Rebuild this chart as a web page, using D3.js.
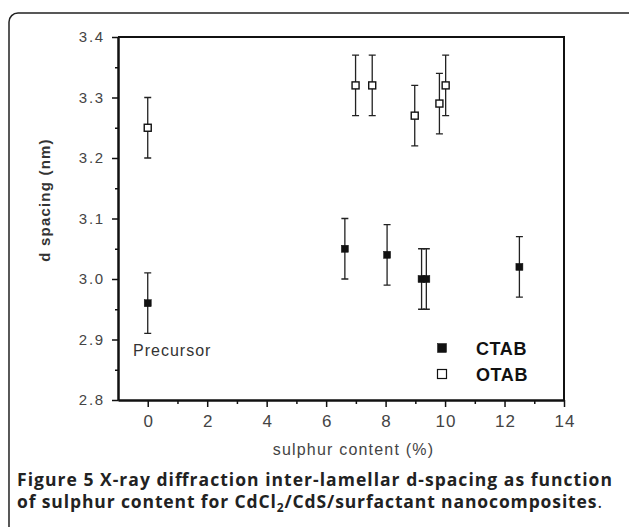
<!DOCTYPE html>
<html>
<head>
<meta charset="utf-8">
<script src="https://cdn.jsdelivr.net/npm/d3@7"></script>
<style>
  body { margin: 0; background: #fff; }
  svg { display: block; }
</style>
</head>
<body>
<div id="drawing_region"></div>
<script>
// values
const ctabX = [0, 6.63, 8.05, 9.21, 9.37, 12.5];
const ctabY = [2.96, 3.05, 3.04, 3.00, 3.00, 3.02];
const ctabErr = [0.05, 0.05, 0.05, 0.05, 0.05, 0.05];

const otabX = [0, 6.99, 7.55, 8.98, 9.81, 10.02];
const otabY = [3.25, 3.32, 3.32, 3.27, 3.29, 3.32];
const otabErr = [0.05, 0.05, 0.05, 0.05, 0.05, 0.05];

const xTicks = [0, 2, 4, 6, 8, 10, 12, 14];
const xMinor = [1, 3, 5, 7, 9, 11, 13];
const yTicks = [2.8, 2.9, 3.0, 3.1, 3.2, 3.3, 3.4];
const yMinor = [2.85, 2.95, 3.05, 3.15, 3.25, 3.35];

const legendNames = ["CTAB", "OTAB"];

const width = 629, height = 527;
const margin = { top: 37, right: 65, bottom: 127, left: 118 };
const innerW = width - margin.left - margin.right;
const innerH = height - margin.top - margin.bottom;

const svg = d3.select("#drawing_region").append("svg")
    .attr("width", width)
    .attr("height", height);

// rounded outer panel
svg.append("rect")
    .attr("x", 9).attr("y", 13)
    .attr("width", 640).attr("height", 540)
    .attr("rx", 9)
    .attr("fill", "none")
    .attr("stroke", "#222")
    .attr("stroke-width", 1.5);

const chart = svg.append("g")
    .attr("transform", `translate(${margin.left}, ${margin.top})`);

const x = d3.scaleLinear().domain([-1, 14]).range([0, innerW]);
const y = d3.scaleLinear().domain([2.8, 3.4]).range([innerH, 0]);

const axisFont = "'Liberation Sans', Arial, sans-serif";

// x axis
const xAxis = chart.append("g")
    .attr("class", "x-axis")
    .attr("transform", `translate(0, ${innerH})`)
    .call(d3.axisBottom(x).tickValues(xTicks).tickSize(7).tickPadding(8).tickSizeOuter(0));
chart.append("g")
    .attr("transform", `translate(0, ${innerH})`)
    .call(d3.axisBottom(x).tickValues(xMinor).tickSize(4).tickFormat("").tickSizeOuter(0));

// y axis
const yAxis = chart.append("g")
    .attr("class", "y-axis")
    .call(d3.axisLeft(y).tickValues(yTicks).tickSize(6).tickPadding(7)
        .tickFormat(d3.format(".1f")).tickSizeOuter(0));
chart.append("g")
    .call(d3.axisLeft(y).tickValues(yMinor).tickSize(3).tickFormat("").tickSizeOuter(0));

chart.selectAll(".domain").attr("stroke", "#111").attr("stroke-width", 2);
chart.selectAll(".tick line").attr("stroke", "#111").attr("stroke-width", 1.5);
xAxis.selectAll(".tick text")
    .attr("font-family", axisFont)
    .attr("font-size", 17)
    .attr("letter-spacing", 1)
    .attr("dx", 0.5)
    .attr("fill", "#444");
yAxis.selectAll(".tick text")
    .attr("font-family", axisFont)
    .attr("font-size", 15)
    .attr("letter-spacing", 1.8)
    .attr("fill", "#444");

// top and right frame
chart.append("path")
    .attr("d", `M0,0H${innerW}V${innerH}`)
    .attr("fill", "none")
    .attr("stroke", "#111")
    .attr("stroke-width", 2);

// axis titles
chart.append("text")
    .attr("x", x(6.92))
    .attr("y", innerH + 55)
    .attr("text-anchor", "middle")
    .attr("font-family", axisFont)
    .attr("font-size", 16)
    .attr("letter-spacing", 1.2)
    .attr("fill", "#444")
    .text("sulphur content (%)");

chart.append("text")
    .attr("transform", `translate(${-68}, ${200 - margin.top}) rotate(-90)`)
    .attr("text-anchor", "middle")
    .attr("font-family", axisFont)
    .attr("font-size", 15)
    .attr("font-weight", "bold")
    .attr("letter-spacing", 1.2)
    .attr("fill", "#333")
    .text("d spacing (nm)");

// error bars + markers
function drawSeries(xs, ys, errs, filled) {
    const data = xs.map((d, i) => ({ x: d, y: ys[i], e: errs[i] }));
    const g = chart.append("g");
    const cap = 3.5;
    data.forEach(d => {
        const px = x(d.x);
        const y1 = y(d.y + d.e), y2 = y(d.y - d.e);
        g.append("path")
            .attr("d", `M${px},${y1}V${y2}M${px - cap},${y1}H${px + cap}M${px - cap},${y2}H${px + cap}`)
            .attr("fill", "none")
            .attr("stroke", "#222")
            .attr("stroke-width", 1.3);
    });
    const s = 7;
    g.selectAll("rect").data(data).enter().append("rect")
        .attr("x", d => x(d.x) - s / 2)
        .attr("y", d => y(d.y) - s / 2)
        .attr("width", s)
        .attr("height", s)
        .attr("fill", filled ? "#111" : "#fff")
        .attr("stroke", "#111")
        .attr("stroke-width", filled ? 0.5 : 1.4);
}
drawSeries(ctabX, ctabY, ctabErr, true);
drawSeries(otabX, otabY, otabErr, false);

// precursor label
chart.append("text")
    .attr("x", 15)
    .attr("y", y(2.8725))
    .attr("font-family", axisFont)
    .attr("font-size", 16)
    .attr("letter-spacing", 1)
    .attr("fill", "#333")
    .text("Precursor");

// legend
const legend = chart.append("g").attr("transform", `translate(${442 - margin.left}, ${348 - margin.top})`);
legendNames.forEach((name, i) => {
    const gy = i * 26;
    legend.append("rect")
        .attr("x", -4.5).attr("y", gy - 4.5)
        .attr("width", 9).attr("height", 9)
        .attr("fill", i === 0 ? "#111" : "#fff")
        .attr("stroke", "#111")
        .attr("stroke-width", i === 0 ? 0.5 : 1.2);
    legend.append("text")
        .attr("x", 34).attr("y", gy + 6.5)
        .attr("font-family", axisFont)
        .attr("font-size", 18)
        .attr("font-weight", "bold")
        .attr("letter-spacing", 0.6)
        .attr("fill", "#111")
        .text(name);
});

// caption
const capFont = "'Open Sans', 'Noto Sans', sans-serif";
const cap1 = svg.append("text")
    .attr("x", 17).attr("y", 486)
    .attr("font-family", capFont)
    .attr("font-size", 17.5)
    .attr("font-weight", "bold")
    .attr("fill", "#222")
    .attr("textLength", 595)
    .attr("lengthAdjust", "spacing");
cap1.append("tspan").text("Figure 5 ");
cap1.append("tspan").text("X-ray diffraction inter-lamellar d-spacing as function");

const cap2 = svg.append("text")
    .attr("x", 17).attr("y", 508)
    .attr("font-family", capFont)
    .attr("font-size", 17.5)
    .attr("font-weight", "bold")
    .attr("fill", "#222")
    .attr("textLength", 585)
    .attr("lengthAdjust", "spacing");
cap2.append("tspan").text("of sulphur content for CdCl");
cap2.append("tspan").attr("font-size", 12).attr("dy", 4).text("2");
cap2.append("tspan").attr("dy", -4).text("/CdS/surfactant nanocomposites");
cap2.append("tspan").attr("font-weight", "normal").text(".");
</script>
</body>
</html>
